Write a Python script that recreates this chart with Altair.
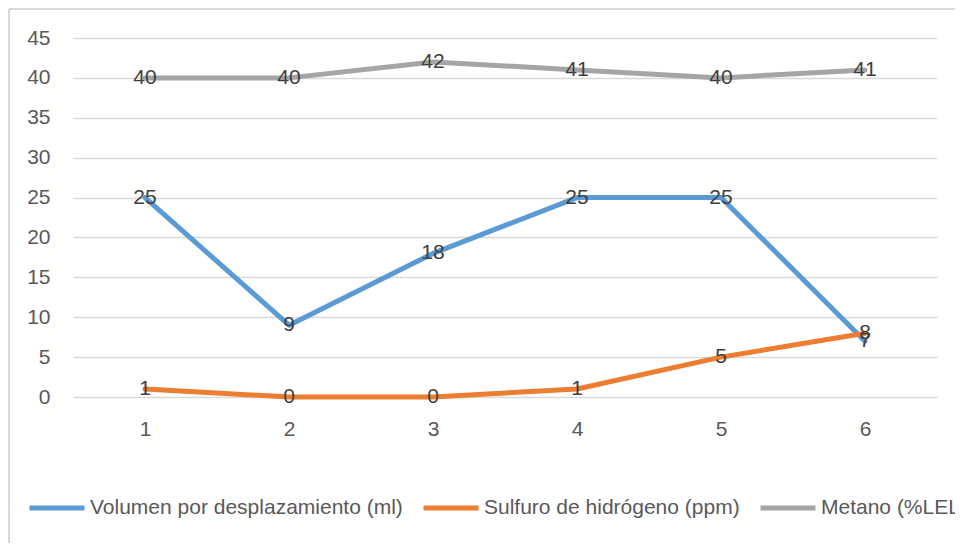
import altair as alt
import pandas as pd

categories = [1, 2, 3, 4, 5, 6]
series_names = ["Volumen por desplazamiento (ml)", "Sulfuro de hidrógeno (ppm)", "Metano (%LEL)"]
volumen = [25, 9, 18, 25, 25, 7]
sulfuro = [1, 0, 0, 1, 5, 8]
metano = [40, 40, 42, 41, 40, 41]
colors = ["#5B9BD5", "#ED7D31", "#A5A5A5"]
y_ticks = [0, 5, 10, 15, 20, 25, 30, 35, 40, 45]

rows = []
for name, vals in zip(series_names, [volumen, sulfuro, metano]):
    for c, v in zip(categories, vals):
        rows.append({"cat": str(c), "value": v, "series": name})
df = pd.DataFrame(rows)

FONT = "Liberation Sans"
FS = 21

x = alt.X("cat:N", sort=[str(c) for c in categories],
          scale=alt.Scale(type="point", padding=0.5),
          axis=alt.Axis(title=None, labelAngle=0, domain=False, ticks=False, grid=False,
                        labelPadding=21, labelFontSize=FS, labelFont=FONT, labelColor="#595959"))
y = alt.Y("value:Q", scale=alt.Scale(domain=[0, 45], nice=False),
          axis=alt.Axis(title=None, values=y_ticks, tickCount=20, domain=False, ticks=False,
                        labelOverlap=False,
                        gridColor="#D9D9D9", gridWidth=1.5, labelPadding=23,
                        labelFontSize=FS, labelFont=FONT, labelColor="#595959"))

color = alt.Color("series:N",
                  scale=alt.Scale(domain=series_names, range=colors),
                  legend=alt.Legend(title=None, orient="none", direction="horizontal",
                                    legendX=-46, legendY=440,
                                    symbolType="stroke", symbolStrokeWidth=5,
                                    symbolSize=3025, labelFontSize=FS, labelFont=FONT,
                                    labelColor="#595959", labelOffset=3, columnPadding=10,
                                    labelLimit=1000))

lines = alt.Chart(df).mark_line(strokeWidth=5, strokeCap="round", strokeJoin="round").encode(
    x=x, y=y, color=color)

labels = alt.Chart(df).mark_text(fontSize=FS, font=FONT, color="#404040",
                                 align="center", baseline="middle").encode(
    x=x, y=y, text="value:Q")

border_left = alt.Chart(df).mark_rule(color="#D9D9D9", strokeWidth=1.5).encode(
    x=alt.value(-64), y=alt.value(-29), y2=alt.value(520))
border_top = alt.Chart(df).mark_rule(color="#D9D9D9", strokeWidth=1.5).encode(
    x=alt.value(-64), x2=alt.value(900), y=alt.value(-29))

chart = alt.layer(lines, labels, border_left, border_top).properties(
    width=864, height=359,
    autosize=alt.AutoSizeParams(type="none"),
    padding={"left": 65, "top": 30, "right": 18, "bottom": 146},
    background="white",
).configure_view(stroke=None)

chart.save("out.html", embed_options={"renderer": "svg", "actions": False})
